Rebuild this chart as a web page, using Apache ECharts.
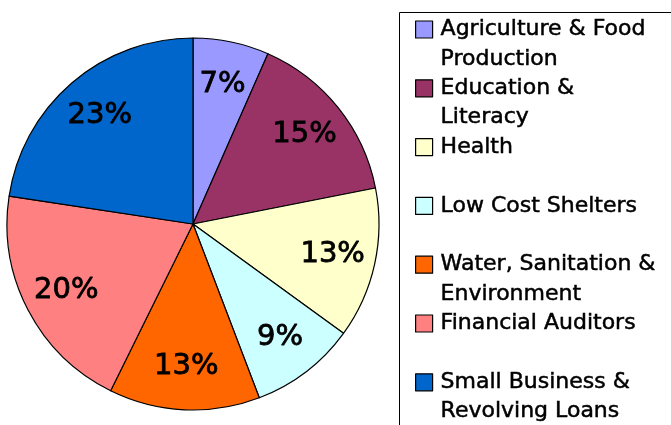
<!DOCTYPE html>
<html>
<head>
<meta charset="utf-8">
<script src="https://cdn.jsdelivr.net/npm/echarts@6/dist/echarts.min.js"></script>
<style>
  html, body { margin: 0; padding: 0; background: #fff; }
  #chart { width: 671px; height: 425px; }
</style>
</head>
<body>
<div id="chart"></div>
<script>
// slice shares
const categories = [
  'Agriculture & Food\nProduction',
  'Education &\nLiteracy',
  'Health',
  'Low Cost Shelters',
  'Water, Sanitation &\nEnvironment',
  'Financial Auditors',
  'Small Business &\nRevolving Loans'
];
const shares = [6.6, 15.3, 13.1, 9.2, 13.1, 20.1, 22.6];
const colors = ['#9999FF', '#993366', '#FFFFCC', '#CCFFFF', '#FF6600', '#FF8080', '#0066CC'];

const font = 'DejaVu Sans';
const lineH = 29.4;

const pieData = categories.map((name, i) => ({
  name,
  value: shares[i],
  itemStyle: { color: colors[i] }
}));

const chart = echarts.init(document.getElementById('chart'), null, { renderer: 'canvas' });

chart.setOption({
  animation: false,
  backgroundColor: '#fff',
  graphic: [{
    type: 'rect',
    z: -1,
    shape: { x: 399.5, y: 12.5, width: 400, height: 500 },
    style: { fill: 'none', stroke: '#000', lineWidth: 1 }
  }],
  legend: {
    orient: 'vertical',
    left: 415,
    top: 29.5 - (lineH * 3) / 2,
    height: 600,
    padding: 0,
    icon: 'rect',
    itemWidth: 17,
    itemHeight: 17,
    itemGap: -lineH,
    data: categories,
    selectedMode: false,
    itemStyle: { borderColor: '#000', borderWidth: 1.2 },
    // three text lines per item, the first blank, so the name's first line sits next to the swatch
    formatter: name => ' \n' + (name.indexOf('\n') >= 0 ? name : name + '\n '),
    textStyle: {
      fontFamily: font,
      fontSize: 22,
      color: '#000',
      lineHeight: lineH,
      textBorderColor: '#000',
      textBorderWidth: 0.5,
      padding: [0, 0, 0, 3]
    }
  },
  series: [
    {
      type: 'pie',
      center: [193, 224],
      radius: 186,
      startAngle: 90,
      clockwise: true,
      silent: true,
      data: pieData,
      itemStyle: { borderColor: '#000', borderWidth: 1.2 },
      label: { show: false },
      labelLine: { show: false },
      emphasis: { disabled: true }
    },
    {
      // label ring, sits over the pie so labels land ~3/4 out
      type: 'pie',
      center: [193, 224],
      radius: [94, 186],
      startAngle: 90,
      clockwise: true,
      silent: true,
      percentPrecision: 0,
      data: categories.map((name, i) => ({ name, value: shares[i] })),
      itemStyle: { color: 'rgba(0,0,0,0)', borderWidth: 0 },
      label: {
        show: true,
        position: 'inside',
        formatter: '{d}%',
        fontFamily: font,
        fontSize: 29,
        color: '#000',
        textBorderColor: '#000',
        textBorderWidth: 0.8
      },
      labelLine: { show: false },
      emphasis: { disabled: true }
    }
  ]
});
</script>
</body>
</html>
